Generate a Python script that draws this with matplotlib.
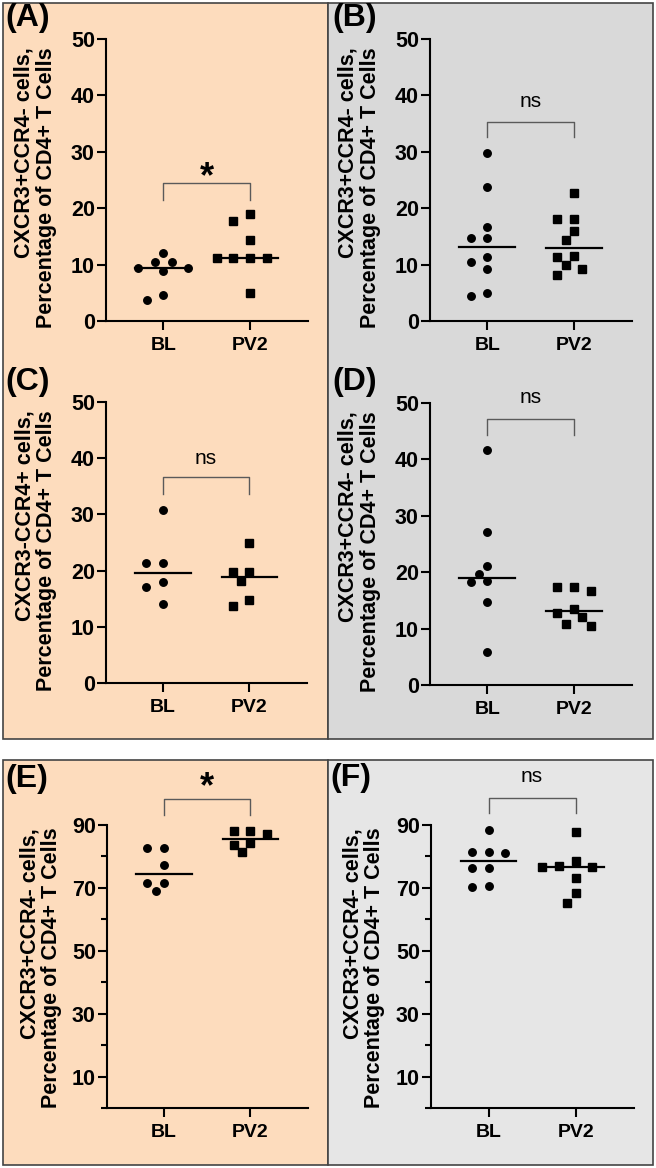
import numpy as np
import matplotlib

matplotlib.use("Agg")
import matplotlib.pyplot as plt
from matplotlib.patches import Rectangle

plt.rcParams["font.family"] = ["Liberation Sans", "DejaVu Sans"]

# values (percentage of CD4+ T cells)
groups = ["BL", "PV2"]
a_bl = [12.0, 10.5, 10.5, 9.45, 9.45, 8.9, 4.6, 3.7]
a_pv2 = [19.0, 17.8, 14.3, 11.2, 11.2, 11.2, 11.2, 5.0]
b_bl = [29.7, 23.7, 16.7, 14.7, 14.7, 11.4, 10.4, 9.2, 4.9, 4.4]
b_pv2 = [22.7, 18.0, 18.0, 15.9, 14.4, 11.5, 11.4, 10.0, 9.3, 8.1]
c_bl = [30.7, 21.3, 21.3, 17.9, 17.0, 14.0]
c_pv2 = [24.9, 19.8, 19.7, 18.1, 14.8, 13.7]
d_bl = [41.6, 27.1, 21.15, 19.7, 18.4, 18.2, 14.7, 5.8]
d_pv2 = [17.4, 17.3, 16.6, 13.4, 12.8, 12.0, 10.9, 10.4]
e_bl = [82.8, 82.6, 77.2, 71.4, 71.4, 69.0]
e_pv2 = [88.1, 88.1, 87.0, 84.4, 83.6, 81.3]
f_bl = [88.4, 81.5, 81.5, 81.0, 76.2, 76.2, 70.6, 70.4]
f_pv2 = [87.9, 78.4, 77.1, 76.6, 76.6, 73.1, 68.3, 65.1]

label_neg = "CXCR3+CCR4- cells,\nPercentage of CD4+ T Cells"
label_c = "CXCR3-CCR4+ cells,\nPercentage of CD4+ T Cells"

W, H = 656, 1168
ORANGE = "#FDDCBD"
GRAY = "#D9D9D9"
LIGHT = "#E6E6E6"
EDGE = "#444444"

fig = plt.figure(figsize=(W / 100, H / 100), dpi=100)


def box(x0, y0, x1, y1, color):
    fig.add_artist(
        Rectangle((x0 / W, 1 - y1 / H), (x1 - x0) / W, (y1 - y0) / H,
                  transform=fig.transFigure, facecolor=color,
                  edgecolor=EDGE, linewidth=1.2, zorder=0)
    )


def px_axes(left, top, right, bottom):
    ax = fig.add_axes([left / W, 1 - bottom / H, (right - left) / W, (bottom - top) / H])
    ax.patch.set_alpha(0)
    return ax


def swarm(ax, x0, vals, step=8.3, min_dist=11.0):
    # simple beeswarm in pixel space, offsets on a half-step grid
    vals = np.asarray(vals, dtype=float)
    ys = ax.transData.transform(np.column_stack([np.full(len(vals), x0), vals]))[:, 1]
    offs = np.zeros(len(vals))
    placed = []
    cand = [0]
    for k in range(1, 8):
        cand += [-k, k]
    for i in np.argsort(-vals, kind="stable"):
        for k in cand:
            dx = k * step
            if all(np.hypot(dx - px, ys[i] - py) >= min_dist for px, py in placed):
                break
        placed.append((dx, ys[i]))
        offs[i] = dx
    x_lo, x_hi = ax.get_xlim()
    per_px = (x_hi - x_lo) / ax.get_window_extent().width
    return x0 + offs * per_px


def panel(ax, bl, pv2, ylim, major, minor, ylabel, sig, bracket, label_xy):
    ax.set_xlim(0.34, 2.67)
    ax.set_ylim(*ylim)
    for x0, vals, mk in [(1, bl, "o"), (2, pv2, "s")]:
        xs = swarm(ax, x0, vals)
        ax.plot(xs, vals, linestyle="none", marker=mk, ms=5.4, color="black", zorder=4)
        med = np.median(vals)
        ax.plot([x0 - 0.32, x0 + 0.32], [med, med], color="black", lw=1.6, zorder=3)

    for s in ["top", "right"]:
        ax.spines[s].set_visible(False)
    for s in ["left", "bottom"]:
        ax.spines[s].set_linewidth(1.5)
    ax.set_xticks([1, 2])
    ax.set_xticklabels(groups, fontsize=14, fontweight="bold")
    ax.set_yticks(major)
    ax.set_yticklabels([str(v) for v in major], fontsize=15.5, fontweight="bold")
    if minor:
        ax.set_yticks(minor, minor=True)
        ax.tick_params(axis="y", which="minor", length=4.5, width=1.5)
    ax.tick_params(axis="both", which="major", length=6.5, width=1.5)
    ax.tick_params(axis="y", pad=1.5)
    ax.tick_params(axis="x", pad=5)

    lo, hi, ty = bracket
    ax.plot([1, 1, 2, 2], [lo, hi, hi, lo], color="#5a5a5a", lw=1.0, clip_on=False)
    if sig == "*":
        ax.text(1.5, ty, "*", ha="center", va="center", fontsize=26,
                fontweight="bold", clip_on=False)
    else:
        ax.text(1.5, ty, sig, ha="center", va="center", fontsize=15, clip_on=False)

    ax.text(label_xy[0], label_xy[1], ylabel, transform=ax.transAxes, rotation=90,
            rotation_mode="anchor", ha="right", va="center", multialignment="right",
            fontsize=15.5, fontweight="bold", linespacing=1.05)


# background blocks
box(3, 3, 328, 739, ORANGE)
box(328, 3, 653, 739, GRAY)
box(3, 760, 328, 1165, ORANGE)
box(328, 760, 653, 1165, LIGHT)

ticks50 = [0, 10, 20, 30, 40, 50]
ticks90 = [10, 30, 50, 70, 90]
minor90 = [0, 20, 40, 60, 80]

ax_a = px_axes(106, 39, 308, 321)
panel(ax_a, a_bl, a_pv2, (0, 50), ticks50, None, label_neg, "*", (21.5, 24.5, 25.5), (-0.35, 0.97))
ax_b = px_axes(430, 39, 632, 321)
panel(ax_b, b_bl, b_pv2, (0, 50), ticks50, None, label_neg, "ns", (32.6, 35.3, 38.9), (-0.35, 0.97))
ax_c = px_axes(106, 402, 307, 683)
panel(ax_c, c_bl, c_pv2, (0, 50), ticks50, None, label_c, "ns", (33.6, 36.6, 40.0), (-0.35, 0.97))
ax_d = px_axes(430, 403, 632, 685)
panel(ax_d, d_bl, d_pv2, (0, 50), ticks50, None, label_neg, "ns", (44.3, 47.2, 50.9), (-0.35, 0.97))
ax_e = px_axes(107, 825, 308, 1108)
panel(ax_e, e_bl, e_pv2, (0, 90), ticks90, minor90, label_neg, "*", (93.2, 98.3, 101.8), (-0.33, 0.99))
ax_f = px_axes(431, 825, 634, 1108)
panel(ax_f, f_bl, f_pv2, (0, 90), ticks90, minor90, label_neg, "ns", (93.7, 98.5, 105.4), (-0.33, 0.99))

for txt, x, y in [("(A)", 5, 3), ("(B)", 332, 3), ("(C)", 5, 367),
                  ("(D)", 332, 367), ("(E)", 5, 764), ("(F)", 330, 763)]:
    fig.text(x / W, 1 - y / H, txt, ha="left", va="top", fontsize=23, fontweight="bold")

fig.savefig("out.png", dpi=100)
plt.close(fig)
